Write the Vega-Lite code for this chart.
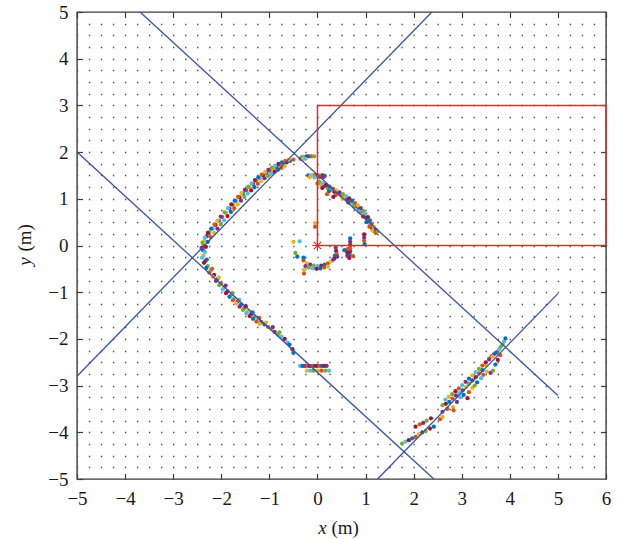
{
  "$schema": "https://vega.github.io/schema/vega-lite/v6.json",
  "width": 529,
  "height": 467,
  "autosize": {"type": "none"},
  "padding": {"left": 77, "top": 12, "right": 13, "bottom": 60},
  "config": {
    "view": {"stroke": "#3b3b3b", "strokeWidth": 1.4},
    "axis": {
      "labelFont": "Liberation Serif", "labelFontSize": 19, "labelColor": "#1a1a1a",
      "titleFont": "Liberation Serif", "titleFontSize": 19, "titleColor": "#1a1a1a", "titleFontWeight": "normal",
      "domain": false, "grid": false, "tickColor": "#3b3b3b", "tickWidth": 1.2, "tickSize": -5.5,
      "labelFlush": false, "labelOverlap": false
    }
  },
  "datasets": {
    "blue": [
      {"g": "A", "o": 1, "x": -3.69, "y": 5}, {"g": "A", "o": 2, "x": 5, "y": -3.21},
      {"g": "B", "o": 1, "x": -5, "y": 2}, {"g": "B", "o": 2, "x": 2.42, "y": -5},
      {"g": "C", "o": 1, "x": -5, "y": -2.8}, {"g": "C", "o": 2, "x": 2.38, "y": 5},
      {"g": "D", "o": 1, "x": 1.25, "y": -5}, {"g": "D", "o": 2, "x": 5, "y": -1.03}
    ],
    "red": [
      {"o": 1, "x": 0, "y": 0}, {"o": 2, "x": 0, "y": 3}, {"o": 3, "x": 6, "y": 3}, {"o": 4, "x": 6, "y": 0}, {"o": 5, "x": 0, "y": 0}
    ],
    "origin": [{"x": 0, "y": 0}],
    "pts": [
      {"x":-2.38,"y":-0.10,"c":1},{"x":-2.37,"y":0.00,"c":2},{"x":-2.35,"y":0.10,"c":3},{"x":-2.30,"y":0.20,"c":4},{"x":-2.25,"y":0.28,"c":5},{"x":-2.18,"y":0.36,"c":6},{"x":-2.12,"y":0.44,"c":7},{"x":-2.05,"y":0.53,"c":1},{"x":-1.98,"y":0.61,"c":2},{"x":-1.90,"y":0.70,"c":3},{"x":-1.83,"y":0.79,"c":4},{"x":-1.76,"y":0.87,"c":5},{"x":-1.69,"y":0.95,"c":6},{"x":-1.62,"y":1.03,"c":7},{"x":-1.55,"y":1.11,"c":1},{"x":-1.48,"y":1.18,"c":2},{"x":-1.41,"y":1.25,"c":3},{"x":-1.34,"y":1.32,"c":4},{"x":-1.27,"y":1.38,"c":5},{"x":-1.20,"y":1.44,"c":6},{"x":-1.13,"y":1.50,"c":7},{"x":-1.06,"y":1.55,"c":1},{"x":-0.99,"y":1.60,"c":2},{"x":-0.92,"y":1.64,"c":3},{"x":-0.85,"y":1.68,"c":4},{"x":-0.78,"y":1.72,"c":5},{"x":-0.71,"y":1.75,"c":6},{"x":-0.64,"y":1.78,"c":7},{"x":-0.57,"y":1.81,"c":1},{"x":-0.50,"y":1.84,"c":2},
      {"x":-2.41,"y":-0.05,"c":4},{"x":-2.39,"y":0.06,"c":5},{"x":-2.34,"y":0.17,"c":6},{"x":-2.28,"y":0.27,"c":7},{"x":-2.21,"y":0.36,"c":1},{"x":-2.14,"y":0.45,"c":2},{"x":-2.08,"y":0.53,"c":3},{"x":-2.01,"y":0.62,"c":4},{"x":-1.93,"y":0.71,"c":5},{"x":-1.86,"y":0.80,"c":6},{"x":-1.79,"y":0.88,"c":7},{"x":-1.72,"y":0.96,"c":1},{"x":-1.65,"y":1.04,"c":2},{"x":-1.58,"y":1.12,"c":3},{"x":-1.51,"y":1.19,"c":4},{"x":-1.44,"y":1.26,"c":5},{"x":-1.37,"y":1.33,"c":6},{"x":-1.30,"y":1.40,"c":7},{"x":-1.23,"y":1.46,"c":1},{"x":-1.16,"y":1.52,"c":2},{"x":-1.09,"y":1.57,"c":3},{"x":-1.02,"y":1.62,"c":4},{"x":-0.95,"y":1.67,"c":5},{"x":-0.88,"y":1.71,"c":6},{"x":-0.81,"y":1.75,"c":7},{"x":-0.74,"y":1.78,"c":1},{"x":-0.67,"y":1.81,"c":2},{"x":-0.60,"y":1.84,"c":3},
      {"x":-2.34,"y":-0.14,"c":6},{"x":-2.32,"y":-0.03,"c":7},{"x":-2.28,"y":0.08,"c":1},{"x":-2.22,"y":0.18,"c":2},{"x":-2.15,"y":0.27,"c":3},{"x":-2.08,"y":0.36,"c":4},{"x":-2.01,"y":0.45,"c":5},{"x":-1.94,"y":0.54,"c":6},{"x":-1.87,"y":0.63,"c":7},{"x":-1.80,"y":0.72,"c":1},{"x":-1.73,"y":0.80,"c":2},{"x":-1.66,"y":0.88,"c":3},{"x":-1.59,"y":0.96,"c":4},{"x":-1.52,"y":1.04,"c":5},{"x":-1.45,"y":1.11,"c":6},{"x":-1.38,"y":1.18,"c":7},{"x":-1.31,"y":1.25,"c":1},{"x":-1.24,"y":1.32,"c":2},{"x":-1.17,"y":1.38,"c":3},{"x":-1.10,"y":1.44,"c":4},{"x":-1.03,"y":1.49,"c":5},{"x":-0.96,"y":1.54,"c":6},{"x":-0.89,"y":1.58,"c":7},{"x":-0.82,"y":1.62,"c":1},{"x":-0.75,"y":1.66,"c":2},{"x":-0.68,"y":1.70,"c":3},
      {"x":-0.35,"y":1.86,"c":4},{"x":-0.32,"y":1.90,"c":5},{"x":-0.27,"y":1.90,"c":6},{"x":-0.22,"y":1.91,"c":7},{"x":-0.17,"y":1.91,"c":1},{"x":-0.12,"y":1.91,"c":2},{"x":-0.07,"y":1.91,"c":5},{"x":-0.30,"y":1.85,"c":3},{"x":-0.25,"y":1.86,"c":6},
      {"x":-0.19,"y":1.50,"c":1},{"x":-0.14,"y":1.50,"c":6},{"x":-0.09,"y":1.51,"c":3},{"x":-0.04,"y":1.51,"c":2},{"x":0.01,"y":1.50,"c":4},{"x":0.06,"y":1.50,"c":5},{"x":0.11,"y":1.50,"c":7},{"x":0.15,"y":1.49,"c":1},{"x":-0.16,"y":1.46,"c":3},{"x":-0.06,"y":1.46,"c":6},{"x":0.04,"y":1.46,"c":2},{"x":0.12,"y":1.46,"c":4},
      {"x":0.00,"y":1.33,"c":2},{"x":0.07,"y":1.30,"c":3},{"x":0.14,"y":1.27,"c":4},{"x":0.21,"y":1.23,"c":5},{"x":0.28,"y":1.19,"c":6},{"x":0.35,"y":1.15,"c":7},{"x":0.42,"y":1.11,"c":1},{"x":0.49,"y":1.07,"c":2},{"x":0.56,"y":1.03,"c":3},{"x":0.62,"y":0.99,"c":4},{"x":0.68,"y":0.94,"c":5},{"x":0.74,"y":0.89,"c":6},{"x":0.80,"y":0.84,"c":7},{"x":0.86,"y":0.78,"c":1},{"x":0.91,"y":0.72,"c":2},{"x":0.96,"y":0.66,"c":3},{"x":1.01,"y":0.59,"c":4},{"x":1.05,"y":0.52,"c":5},{"x":1.09,"y":0.45,"c":6},{"x":1.13,"y":0.38,"c":7},{"x":1.17,"y":0.32,"c":1},{"x":1.21,"y":0.27,"c":2},
      {"x":0.04,"y":1.36,"c":5},{"x":0.11,"y":1.33,"c":6},{"x":0.18,"y":1.30,"c":7},{"x":0.25,"y":1.26,"c":1},{"x":0.32,"y":1.22,"c":2},{"x":0.39,"y":1.18,"c":3},{"x":0.46,"y":1.14,"c":4},{"x":0.53,"y":1.10,"c":5},{"x":0.60,"y":1.06,"c":6},{"x":0.66,"y":1.01,"c":7},{"x":0.72,"y":0.96,"c":1},{"x":0.78,"y":0.91,"c":2},{"x":0.84,"y":0.86,"c":3},{"x":0.90,"y":0.80,"c":4},{"x":0.95,"y":0.74,"c":5},{"x":1.00,"y":0.68,"c":6},{"x":1.05,"y":0.61,"c":7},{"x":1.09,"y":0.54,"c":1},{"x":1.13,"y":0.47,"c":2},{"x":1.17,"y":0.40,"c":3},{"x":1.21,"y":0.34,"c":4},{"x":1.25,"y":0.30,"c":5},
      {"x":0.10,"y":1.23,"c":7},{"x":0.24,"y":1.16,"c":1},{"x":0.38,"y":1.08,"c":2},{"x":0.52,"y":1.00,"c":3},{"x":0.64,"y":0.92,"c":4},{"x":0.76,"y":0.83,"c":5},{"x":0.86,"y":0.73,"c":6},{"x":0.95,"y":0.62,"c":7},{"x":1.02,"y":0.50,"c":1},{"x":1.08,"y":0.40,"c":2},{"x":1.14,"y":0.32,"c":3},{"x":0.33,"y":1.04,"c":7},{"x":0.20,"y":1.10,"c":2},
      {"x":-2.37,"y":-0.22,"c":3},{"x":-2.33,"y":-0.33,"c":4},{"x":-2.28,"y":-0.44,"c":5},{"x":-2.22,"y":-0.54,"c":6},{"x":-2.15,"y":-0.63,"c":7},{"x":-2.08,"y":-0.72,"c":1},{"x":-2.01,"y":-0.81,"c":2},{"x":-1.94,"y":-0.90,"c":3},{"x":-1.87,"y":-0.98,"c":4},{"x":-1.80,"y":-1.06,"c":5},{"x":-1.73,"y":-1.13,"c":6},{"x":-1.66,"y":-1.20,"c":7},{"x":-1.59,"y":-1.27,"c":1},{"x":-1.52,"y":-1.34,"c":2},{"x":-1.45,"y":-1.41,"c":3},{"x":-1.38,"y":-1.47,"c":4},{"x":-1.31,"y":-1.53,"c":5},{"x":-1.24,"y":-1.59,"c":6},{"x":-1.17,"y":-1.64,"c":7},{"x":-1.10,"y":-1.69,"c":1},{"x":-1.03,"y":-1.74,"c":2},{"x":-0.96,"y":-1.79,"c":3},{"x":-0.89,"y":-1.85,"c":4},{"x":-0.82,"y":-1.90,"c":5},{"x":-0.75,"y":-1.95,"c":6},{"x":-0.68,"y":-2.00,"c":7},
      {"x":-2.40,"y":-0.26,"c":6},{"x":-2.36,"y":-0.37,"c":7},{"x":-2.31,"y":-0.48,"c":1},{"x":-2.25,"y":-0.58,"c":2},{"x":-2.18,"y":-0.67,"c":3},{"x":-2.11,"y":-0.76,"c":4},{"x":-2.04,"y":-0.85,"c":5},{"x":-1.97,"y":-0.94,"c":6},{"x":-1.90,"y":-1.02,"c":7},{"x":-1.83,"y":-1.10,"c":1},{"x":-1.76,"y":-1.17,"c":2},{"x":-1.69,"y":-1.24,"c":3},{"x":-1.62,"y":-1.31,"c":4},{"x":-1.55,"y":-1.38,"c":5},{"x":-1.48,"y":-1.45,"c":6},{"x":-1.41,"y":-1.51,"c":7},{"x":-1.34,"y":-1.57,"c":1},{"x":-1.27,"y":-1.63,"c":2},{"x":-1.20,"y":-1.68,"c":3},
      {"x":-2.30,"y":-0.30,"c":1},{"x":-2.19,"y":-0.50,"c":2},{"x":-2.05,"y":-0.68,"c":3},{"x":-1.91,"y":-0.86,"c":4},{"x":-1.77,"y":-1.02,"c":5},{"x":-1.63,"y":-1.16,"c":6},{"x":-1.49,"y":-1.30,"c":7},{"x":-1.35,"y":-1.43,"c":1},{"x":-1.21,"y":-1.55,"c":2},{"x":-1.07,"y":-1.65,"c":3},{"x":-0.93,"y":-1.75,"c":4},{"x":-0.79,"y":-1.86,"c":5},
      {"x":-0.62,"y":-2.08,"c":6},{"x":-0.58,"y":-2.12,"c":1},{"x":-0.52,"y":-2.22,"c":7},{"x":-0.50,"y":-2.30,"c":1},
      {"x":-0.36,"y":-2.58,"c":6},{"x":-0.31,"y":-2.58,"c":1},{"x":-0.26,"y":-2.58,"c":4},{"x":-0.21,"y":-2.58,"c":2},{"x":-0.16,"y":-2.58,"c":7},{"x":-0.11,"y":-2.58,"c":2},{"x":-0.06,"y":-2.58,"c":4},{"x":-0.01,"y":-2.58,"c":7},{"x":0.04,"y":-2.58,"c":2},{"x":0.09,"y":-2.58,"c":1},{"x":0.14,"y":-2.58,"c":7},{"x":0.19,"y":-2.58,"c":4},
      {"x":-0.22,"y":-2.68,"c":3},{"x":-0.15,"y":-2.68,"c":6},{"x":-0.08,"y":-2.68,"c":5},{"x":0.00,"y":-2.68,"c":3},{"x":0.08,"y":-2.68,"c":2},{"x":0.16,"y":-2.68,"c":5},{"x":0.24,"y":-2.68,"c":6},
      {"x":-0.29,"y":-0.32,"c":2},{"x":-0.22,"y":-0.38,"c":3},{"x":-0.15,"y":-0.41,"c":4},{"x":-0.08,"y":-0.43,"c":5},{"x":0.00,"y":-0.44,"c":6},{"x":0.08,"y":-0.43,"c":7},{"x":0.15,"y":-0.41,"c":1},{"x":0.22,"y":-0.38,"c":2},{"x":0.28,"y":-0.34,"c":3},
      {"x":-0.25,"y":-0.44,"c":4},{"x":-0.18,"y":-0.47,"c":5},{"x":-0.10,"y":-0.49,"c":6},{"x":-0.02,"y":-0.50,"c":7},{"x":0.06,"y":-0.49,"c":1},{"x":0.14,"y":-0.47,"c":2},{"x":0.22,"y":-0.45,"c":3},{"x":-0.28,"y":-0.52,"c":3},{"x":-0.28,"y":-0.60,"c":2},
      {"x":0.38,"y":-0.05,"c":4},{"x":0.39,"y":-0.12,"c":7},{"x":0.40,"y":-0.18,"c":2},{"x":0.41,"y":-0.24,"c":4},{"x":0.36,"y":-0.22,"c":1},{"x":0.35,"y":-0.28,"c":7},{"x":0.33,"y":-0.30,"c":4},
      {"x":0.68,"y":0.15,"c":1},{"x":0.68,"y":0.08,"c":4},{"x":0.68,"y":0.01,"c":7},{"x":0.68,"y":-0.06,"c":2},{"x":0.68,"y":-0.13,"c":4},{"x":0.67,"y":-0.20,"c":1},{"x":0.66,"y":-0.27,"c":7},{"x":0.63,"y":-0.08,"c":2},{"x":0.62,"y":-0.15,"c":7},{"x":0.62,"y":-0.22,"c":4},{"x":0.74,"y":-0.23,"c":2},{"x":0.56,"y":-0.10,"c":1},
      {"x":0.97,"y":0.24,"c":7},{"x":0.97,"y":0.17,"c":4},{"x":0.97,"y":0.10,"c":2},{"x":0.98,"y":0.03,"c":1},
      {"x":-0.50,"y":0.08,"c":3},{"x":-0.37,"y":0.09,"c":6},{"x":-0.46,"y":-0.16,"c":5},{"x":-0.42,"y":-0.24,"c":1},{"x":-0.29,"y":-0.26,"c":1},{"x":-0.05,"y":0.48,"c":3},{"x":-0.05,"y":0.40,"c":2},
      {"x":1.76,"y":-4.24,"c":5},{"x":1.83,"y":-4.20,"c":6},{"x":1.90,"y":-4.17,"c":7},{"x":1.97,"y":-4.13,"c":1},{"x":2.04,"y":-4.10,"c":2},{"x":2.11,"y":-4.04,"c":3},{"x":2.18,"y":-4.00,"c":4},{"x":2.25,"y":-3.97,"c":5},{"x":2.34,"y":-3.92,"c":7},{"x":2.42,"y":-3.88,"c":1},
      {"x":2.04,"y":-3.88,"c":7},{"x":2.13,"y":-3.83,"c":2},{"x":2.20,"y":-3.80,"c":4},{"x":2.27,"y":-3.75,"c":5},{"x":2.36,"y":-3.70,"c":7},
      {"x":2.55,"y":-3.72,"c":2},{"x":2.60,"y":-3.67,"c":3},{"x":2.60,"y":-3.56,"c":4},{"x":2.60,"y":-3.42,"c":5},{"x":2.67,"y":-3.39,"c":7},{"x":2.74,"y":-3.35,"c":1},{"x":2.81,"y":-3.28,"c":2},{"x":2.88,"y":-3.21,"c":4},{"x":2.95,"y":-3.16,"c":6},{"x":3.02,"y":-3.10,"c":1},{"x":3.09,"y":-3.03,"c":3},{"x":3.15,"y":-2.96,"c":5},{"x":3.22,"y":-2.89,"c":4},{"x":3.29,"y":-2.82,"c":7},{"x":3.36,"y":-2.74,"c":2},{"x":3.43,"y":-2.67,"c":1},{"x":3.50,"y":-2.56,"c":3},{"x":3.57,"y":-2.42,"c":6},{"x":3.62,"y":-2.37,"c":2},{"x":3.67,"y":-2.33,"c":4},{"x":3.74,"y":-2.28,"c":2},{"x":3.81,"y":-2.17,"c":5},{"x":3.88,"y":-2.06,"c":6},{"x":3.91,"y":-1.99,"c":1},
      {"x":2.66,"y":-3.30,"c":6},{"x":2.73,"y":-3.24,"c":3},{"x":2.80,"y":-3.18,"c":5},{"x":2.87,"y":-3.12,"c":7},{"x":2.94,"y":-3.06,"c":2},{"x":3.01,"y":-2.99,"c":6},{"x":3.08,"y":-2.92,"c":4},{"x":3.15,"y":-2.85,"c":1},{"x":3.22,"y":-2.78,"c":3},{"x":3.29,"y":-2.71,"c":6},{"x":3.36,"y":-2.64,"c":5},{"x":3.43,"y":-2.57,"c":2},{"x":3.50,"y":-2.50,"c":7},{"x":3.57,"y":-2.44,"c":4},{"x":3.64,"y":-2.38,"c":3},{"x":3.71,"y":-2.30,"c":1},{"x":3.78,"y":-2.22,"c":6},{"x":3.85,"y":-2.12,"c":5},
      {"x":2.70,"y":-3.50,"c":2},{"x":2.82,"y":-3.46,"c":3},{"x":2.83,"y":-3.53,"c":2},{"x":2.90,"y":-3.35,"c":4},{"x":2.97,"y":-3.25,"c":6},{"x":3.04,"y":-3.20,"c":1},{"x":3.12,"y":-3.27,"c":7},{"x":3.15,"y":-3.14,"c":2},{"x":3.22,"y":-3.05,"c":3},{"x":3.27,"y":-3.00,"c":5},{"x":3.32,"y":-2.93,"c":1},{"x":3.40,"y":-2.84,"c":6},{"x":3.45,"y":-2.77,"c":2},{"x":3.52,"y":-2.70,"c":3},{"x":3.60,"y":-2.73,"c":4},{"x":3.65,"y":-2.68,"c":5},{"x":3.70,"y":-2.55,"c":1},{"x":3.75,"y":-2.45,"c":7},{"x":3.80,"y":-2.35,"c":2}
    ]
  },
  "resolve": {"axis": {"x": "independent", "y": "independent"}},
  "layer": [
    {
      "data": {"name": "pts"},
      "mark": {"type": "circle", "size": 18, "opacity": 1},
      "encoding": {
        "x": {"field": "x", "type": "quantitative", "scale": {"domain": [-5, 6], "nice": false, "zero": false},
          "axis": {"orient": "bottom", "values": [-5,-4,-3,-2,-1,0,1,2,3,4,5,6], "labelPadding": 16,
            "title": "x", "titleFontStyle": "italic", "titleX": 245, "titleY": 54, "titleAlign": "center", "titleBaseline": "alphabetic", "titleAngle": 0}},
        "y": {"field": "y", "type": "quantitative", "scale": {"domain": [-5, 5], "nice": false, "zero": false},
          "axis": {"orient": "left", "values": [-5,-4,-3,-2,-1,0,1,2,3,4,5], "labelPadding": 14.5,
            "title": "y", "titleFontStyle": "italic", "titleX": -46.5, "titleY": 249, "titleAlign": "center", "titleBaseline": "alphabetic", "titleAngle": -90}},
        "color": {"field": "c", "type": "nominal", "legend": null,
          "scale": {"domain": [1,2,3,4,5,6,7], "range": ["#0072BD","#D95319","#EDB120","#7E2F8E","#77AC30","#4DBEEE","#A2142F"]}}
      }
    },
    {
      "data": {"name": "blue"},
      "mark": {"type": "line", "color": "#3852a3", "strokeWidth": 1.3},
      "encoding": {
        "x": {"field": "x", "type": "quantitative", "scale": {"domain": [-5, 6], "nice": false, "zero": false},
          "axis": {"orient": "top", "values": [-5,-4,-3,-2,-1,0,1,2,3,4,5,6], "labels": false,
            "title": "(m)", "titleX": 254, "titleY": 521, "titleAlign": "left", "titleBaseline": "alphabetic", "titleAngle": 0}},
        "y": {"field": "y", "type": "quantitative", "scale": {"domain": [-5, 5], "nice": false, "zero": false},
          "axis": {"orient": "right", "labels": false,
            "values": [-4.75,-4.5,-4.25,-4,-3.75,-3.5,-3.25,-3,-2.75,-2.5,-2.25,-2,-1.75,-1.5,-1.25,-1,-0.75,-0.5,-0.25,0,0.25,0.5,0.75,1,1.25,1.5,1.75,2,2.25,2.5,2.75,3,3.25,3.5,3.75,4,4.25,4.5,4.75],
            "tickOpacity": {"condition": {"test": "datum.value % 1 === 0", "value": 1}, "value": 0},
            "grid": true, "gridColor": "#3a3a3a", "gridWidth": 1.4, "gridDash": [1.4, 10.6227], "gridDashOffset": 0.7, "gridOpacity": 0.9,
            "title": "(m)", "titleX": -575.5, "titleY": 239, "titleAlign": "left", "titleBaseline": "alphabetic", "titleAngle": -90}},
        "detail": {"field": "g"},
        "order": {"field": "o"}
      }
    },
    {
      "data": {"name": "red"},
      "mark": {"type": "line", "color": "#e52b2b", "strokeWidth": 1.5},
      "encoding": {
        "x": {"field": "x", "type": "quantitative", "axis": null},
        "y": {"field": "y", "type": "quantitative", "axis": null},
        "order": {"field": "o"}
      }
    },
    {
      "data": {"name": "origin"},
      "mark": {"type": "point", "shape": "M0,-1L0,1M-1,0L1,0M-0.7,-0.7L0.7,0.7M-0.7,0.7L0.7,-0.7", "size": 110, "filled": false, "stroke": "#e52b2b", "strokeWidth": 1.2, "opacity": 1},
      "encoding": {
        "x": {"field": "x", "type": "quantitative", "axis": null},
        "y": {"field": "y", "type": "quantitative", "axis": null}
      }
    }
  ]
}
